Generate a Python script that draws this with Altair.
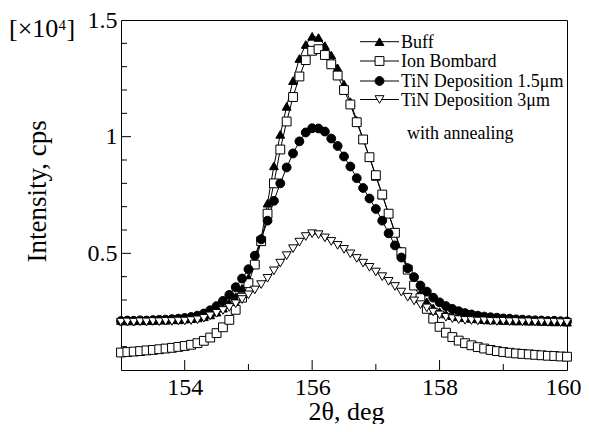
import altair as alt
import pandas as pd

two_theta = [153.0, 153.1, 153.2, 153.3, 153.4, 153.5, 153.6, 153.7, 153.8, 153.9,
             154.0, 154.1, 154.2, 154.3, 154.4, 154.5, 154.6, 154.7, 154.8, 154.9,
             155.0, 155.1, 155.2, 155.3, 155.4, 155.5, 155.6, 155.7, 155.8, 155.9,
             156.0, 156.1, 156.2, 156.3, 156.4, 156.5, 156.6, 156.7, 156.8, 156.9,
             157.0, 157.1, 157.2, 157.3, 157.4, 157.5, 157.6, 157.7, 157.8, 157.9,
             158.0, 158.1, 158.2, 158.3, 158.4, 158.5, 158.6, 158.7, 158.8, 158.9,
             159.0, 159.1, 159.2, 159.3, 159.4, 159.5, 159.6, 159.7, 159.8, 159.9,
             160.0]

buff = [0.212, 0.210, 0.213, 0.211, 0.214, 0.212, 0.215, 0.213, 0.216, 0.215,
        0.218, 0.220, 0.223, 0.228, 0.236, 0.248, 0.265, 0.287, 0.315, 0.350,
        0.395, 0.465, 0.565, 0.715, 0.875, 1.010, 1.130, 1.240, 1.335, 1.395,
        1.430, 1.425, 1.390, 1.350, 1.295, 1.225, 1.150, 1.070, 0.990, 0.910,
        0.830, 0.750, 0.670, 0.590, 0.510, 0.440, 0.380, 0.330, 0.292, 0.266,
        0.250, 0.240, 0.233, 0.228, 0.224, 0.221, 0.219, 0.216, 0.214, 0.215,
        0.212, 0.213, 0.210, 0.211, 0.209, 0.210, 0.208, 0.209, 0.206, 0.207,
        0.205]

ion_bombard = [0.075, 0.077, 0.079, 0.081, 0.084, 0.086, 0.089, 0.092, 0.095, 0.099,
               0.103, 0.108, 0.115, 0.125, 0.139, 0.158, 0.183, 0.215, 0.258, 0.310,
               0.372, 0.452, 0.552, 0.670, 0.800, 0.945, 1.065, 1.170, 1.258, 1.328,
               1.368, 1.375, 1.350, 1.310, 1.262, 1.200, 1.138, 1.062, 0.988, 0.912,
               0.835, 0.752, 0.670, 0.588, 0.505, 0.430, 0.362, 0.308, 0.262, 0.220,
               0.185, 0.160, 0.141, 0.126, 0.115, 0.106, 0.098, 0.092, 0.086, 0.081,
               0.077, 0.074, 0.071, 0.069, 0.067, 0.065, 0.063, 0.061, 0.060, 0.058,
               0.057]

tin_15 = [0.210, 0.212, 0.211, 0.213, 0.212, 0.214, 0.215, 0.216, 0.218, 0.220,
          0.223, 0.227, 0.233, 0.242, 0.256, 0.274, 0.296, 0.322, 0.355, 0.392,
          0.432, 0.490, 0.560, 0.640, 0.725, 0.800, 0.868, 0.928, 0.980, 1.018,
          1.036, 1.035, 1.022, 0.992, 0.960, 0.915, 0.872, 0.822, 0.780, 0.735,
          0.690, 0.640, 0.586, 0.534, 0.482, 0.436, 0.398, 0.362, 0.336, 0.310,
          0.290, 0.274, 0.262, 0.252, 0.244, 0.238, 0.233, 0.229, 0.226, 0.224,
          0.221, 0.220, 0.217, 0.216, 0.214, 0.213, 0.212, 0.210, 0.211, 0.209,
          0.208]

tin_3 = [0.205, 0.206, 0.205, 0.207, 0.206, 0.208, 0.207, 0.209, 0.208, 0.210,
         0.210, 0.212, 0.215, 0.222, 0.232, 0.243, 0.255, 0.268, 0.284, 0.302,
         0.322, 0.343, 0.366, 0.393, 0.425, 0.458, 0.490, 0.520, 0.548, 0.572,
         0.584, 0.580, 0.566, 0.551, 0.534, 0.517, 0.498, 0.478, 0.458, 0.440,
         0.420, 0.400, 0.380, 0.358, 0.334, 0.312, 0.296, 0.280, 0.266, 0.248,
         0.236, 0.226, 0.220, 0.216, 0.213, 0.212, 0.210, 0.211, 0.209, 0.208,
         0.209, 0.207, 0.208, 0.206, 0.207, 0.205, 0.206, 0.204, 0.205, 0.203,
         0.204]

series_names = ["Buff", "Ion Bombard", "TiN Deposition 1.5μm", "TiN Deposition 3μm"]
series_shapes = ["triangle-up", "square", "circle", "triangle-down"]
series_fills = ["black", "white", "black", "white"]

x_labels = [154, 156, 158, 160]
y_labels = [0.5, 1.0, 1.5]
x_major = [154, 156, 158]
x_minor = [155, 157, 159]
y_major = [0.5, 1.0]
y_minor = [0.1, 0.2, 0.3, 0.4, 0.6, 0.7, 0.8, 0.9, 1.1, 1.2, 1.3, 1.4]

rows = []
for name, vals in zip(series_names, [buff, ion_bombard, tin_15, tin_3]):
    for x, v in zip(two_theta, vals):
        rows.append({"series": name, "theta": x, "intensity": v})
df = pd.DataFrame(rows)

W, H = 446, 350
FONT = "Liberation Serif"
MSIZE = 78

x_scale = alt.Scale(domain=[153, 160], nice=False, zero=False)
y_scale = alt.Scale(domain=[0, 1.5], nice=False, zero=False)

x_axis = alt.Axis(values=x_labels, format="d", title="2θ, deg",
                  titleFont=FONT, titleFontSize=26, titleFontWeight="normal", titleColor="black",
                  titleX=225, titleY=49, titleAlign="center", titleBaseline="alphabetic",
                  labelFont=FONT, labelFontSize=24, labelColor="black", labelPadding=5,
                  labelFlush=True, labelFlushOffset=14, labelOverlap=False, labelBound=False,
                  domain=False, ticks=False, grid=False)
y_axis = alt.Axis(values=y_labels, format="~g", title="Intensity, cps",
                  titleFont=FONT, titleFontSize=27, titleFontWeight="normal", titleColor="black",
                  titleAngle=270, titleX=-76, titleY=242, titleAlign="left", titleBaseline="alphabetic",
                  labelFont=FONT, labelFontSize=24, labelColor="black", labelPadding=4,
                  labelFlush=False, labelOverlap=False, labelBound=False,
                  domain=False, ticks=False, grid=False)

X = alt.X("theta:Q", scale=x_scale, axis=x_axis)
Y = alt.Y("intensity:Q", scale=y_scale, axis=y_axis)

shape_scale = alt.Scale(domain=series_names, range=series_shapes)
fill_scale = alt.Scale(domain=series_names, range=series_fills)

lines = alt.Chart(df).mark_line(color="black", strokeWidth=1).encode(
    x=X, y=Y, detail="series:N", order="theta:Q",
)

points = alt.Chart(df).mark_point(filled=True, size=MSIZE, stroke="black", strokeWidth=1, opacity=1).encode(
    x=X, y=Y,
    shape=alt.Shape("series:N", scale=shape_scale, legend=None),
    fill=alt.Fill("series:N", scale=fill_scale, legend=None),
)

def xtick(vals, length):
    return alt.Chart(pd.DataFrame({"theta": vals})).mark_rule(color="black", strokeWidth=1).encode(
        x=X, y=alt.value(H), y2=alt.value(H - length))

def ytick(vals, length):
    return alt.Chart(pd.DataFrame({"intensity": vals})).mark_rule(color="black", strokeWidth=1).encode(
        y=Y, x=alt.value(0), x2=alt.value(length))

ticks = [xtick(x_major, 10), xtick(x_minor, 6), ytick(y_major, 10), ytick(y_minor, 6)]

# Legend drawn inside the plot
leg_layers = []
leg_row_y = [21.7, 41.0, 61.0, 79.5]
one = pd.DataFrame({"k": [0]})
for i, name in enumerate(series_names):
    yy = leg_row_y[i]
    leg_layers.append(alt.Chart(one).mark_rule(color="black", strokeWidth=1).encode(
        x=alt.value(239), x2=alt.value(278), y=alt.value(yy)))
    leg_layers.append(alt.Chart(one).mark_point(filled=True, size=MSIZE, stroke="black", strokeWidth=1,
                                                opacity=1, shape=series_shapes[i], fill=series_fills[i]).encode(
        x=alt.value(258.5), y=alt.value(yy)))
    leg_layers.append(alt.Chart(one).mark_text(text=name, font=FONT, fontSize=18, align="left",
                                               baseline="middle", color="black").encode(
        x=alt.value(280), y=alt.value(yy + 1)))

note = alt.Chart(one).mark_text(text="with annealing", font=FONT, fontSize=18, align="left",
                                baseline="middle", color="black").encode(x=alt.value(286), y=alt.value(114))

mult1 = alt.Chart(one).mark_text(text="[×10", font=FONT, fontSize=26, align="left",
                                 baseline="alphabetic", color="black").encode(x=alt.value(-112), y=alt.value(17))
mult2 = alt.Chart(one).mark_text(text="4", font=FONT, fontSize=15, align="left",
                                 baseline="alphabetic", color="black").encode(x=alt.value(-62.5), y=alt.value(10))
mult3 = alt.Chart(one).mark_text(text="]", font=FONT, fontSize=26, align="left",
                                 baseline="alphabetic", color="black").encode(x=alt.value(-54.5), y=alt.value(17))

chart = alt.layer(lines, points, *ticks, *leg_layers, note, mult1, mult2, mult3).properties(
    width=W, height=H,
    autosize=alt.AutoSizeParams(type="none"),
    padding={"left": 113, "top": 12, "right": 14, "bottom": 54},
    background="white",
).configure_view(stroke="black", strokeWidth=1)

chart.save("out.html", embed_options={"renderer": "svg", "actions": False})
